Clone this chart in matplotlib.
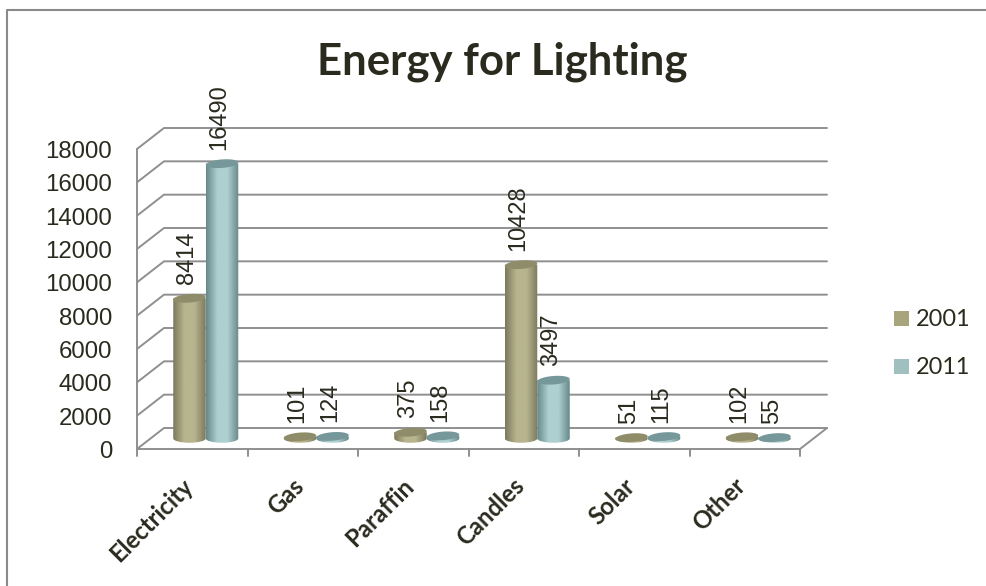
import numpy as np
import matplotlib as mpl
mpl.use('Agg')
import matplotlib.pyplot as plt
from matplotlib.lines import Line2D
from matplotlib.patches import PathPatch, Polygon, Rectangle
from matplotlib.path import Path


title = 'Energy for Lighting'
categories = ['Electricity', 'Gas', 'Paraffin', 'Candles', 'Solar', 'Other']
series_names = ['2001', '2011']
values_2001 = [8414, 101, 375, 10428, 51, 102]
values_2011 = [16490, 124, 158, 3497, 115, 55]
y_ticks = list(range(0, 18001, 2000))

W, H = 986, 586
INK = '#2b2a1e'
GRID = '#8f8f8f'
# (edge, middle, top cap) for each series
SHADES = [('#7c7a5e', '#b8b58e', '#8f8d69'),
          ('#688989', '#aed0d0', '#76989a')]
LEGEND_COLORS = ['#a8a57c', '#9fc0be']

# pretend depth of the 3d box, in pixels
DEPTH_X, DEPTH_Y = 27, 21
AX_L, AX_R, AX_B, AX_T = 137, 800, 449, 149
BAR_W = 32.5
CAP_H = 8.5
CAP_TILT = 1.2


def main():
    fig = plt.figure(figsize=(W/100, H/100), dpi=100, facecolor='white')
    # the chart frame is only visible on its top and left side
    fig.add_artist(Line2D([6.5/W, 6.5/W, 1], [0, 1 - 10/H, 1 - 10/H], color='#8a8a8a', lw=1.5,
                          transform=fig.transFigure))
    ax = fig.add_axes([AX_L/W, 1 - AX_B/H, (AX_R - AX_L)/W, (AX_B - AX_T)/H])
    ax.axis('off')
    ax.set_xlim(0, len(categories))
    ax.set_ylim(0, 18000)
    px_x = len(categories)/(AX_R - AX_L)
    px_y = 18000/(AX_B - AX_T)
    ddx, ddy = DEPTH_X*px_x, DEPTH_Y*px_y
    line = dict(color=GRID, lw=1.4, clip_on=False, zorder=1, solid_capstyle='round')

    # walls and floor
    for v in y_ticks:
        ax.plot([0, ddx, len(categories) + ddx], [v, v + ddy, v + ddy], **line)
    ax.plot([0, 0], [0, 18000], **line)
    ax.plot([0, len(categories), len(categories) + ddx], [0, 0, ddy], **line)
    for i in range(len(categories) + 1):
        ax.plot([i, i], [0, -7*px_y], **line)
    for v in y_ticks:
        ax.text(-25*px_x, v - 3*px_y, str(v), ha='right', va='center', fontsize=17.3,
                family='Liberation Sans', color=INK, clip_on=False)

    # cylinders
    k = 0.5523
    t = np.linspace(0, 2*np.pi, 60)
    for s, vals in enumerate([values_2001, values_2011]):
        edge, mid, top = SHADES[s]
        cmap = mpl.colors.LinearSegmentedColormap.from_list(
            's', [(0, edge), (0.35, mid), (0.65, mid), (1, edge)], N=64)
        for i, v in enumerate(vals):
            w = BAR_W*px_x
            xc = i + 0.5 + ddx/2 + (s - 0.5)*w
            y0 = ddy/2
            y1 = y0 + v
            eh = CAP_H*px_y
            verts = [(xc - w/2, y1), (xc - w/2, y0),
                     (xc - w/2, y0 - k*eh/2), (xc - k*w/2, y0 - eh/2), (xc, y0 - eh/2),
                     (xc + k*w/2, y0 - eh/2), (xc + w/2, y0 - k*eh/2), (xc + w/2, y0),
                     (xc + w/2, y1), (xc - w/2, y1)]
            codes = [Path.MOVETO, Path.LINETO, Path.CURVE4, Path.CURVE4, Path.CURVE4,
                     Path.CURVE4, Path.CURVE4, Path.CURVE4, Path.LINETO, Path.CLOSEPOLY]
            body = PathPatch(Path(verts, codes), fc='none', ec='none')
            ax.add_patch(body)
            im = ax.imshow(np.linspace(0, 1, 64)[None, :], cmap=cmap, aspect='auto',
                           extent=(xc - w/2, xc + w/2, y0 - eh/2, y1 + eh/2), zorder=3)
            im.set_clip_path(body)
            # top cap, tilted a little towards the right
            cap = np.column_stack([xc + w/2*np.cos(t),
                                   y1 + eh/2*np.sin(t) + CAP_TILT*px_y*np.cos(t)])
            ax.add_patch(Polygon(cap, fc=top, ec='none', zorder=4))
            ax.text(xc - 2.5*px_x, y1 + 14*px_y, str(v), rotation=90, ha='center', va='bottom',
                    fontsize=17, family='Liberation Sans', color=INK, zorder=6,
                    clip_on=False)
    ax.set_xlim(0, len(categories))
    ax.set_ylim(0, 18000)

    # category labels, anchored at their upper right end
    for i, name in enumerate(categories):
        ax.text(i + 0.5 - 0.1, -25*px_y, name, rotation=45, ha='right', va='top',
                rotation_mode='anchor', fontsize=17.2, fontweight='bold', family='Lato',
                color=INK, clip_on=False)

    fig.text(502/W, 1 - 75/H, title, ha='center', va='baseline', fontsize=31.5,
             fontweight='bold', family='Lato', color=INK)

    # legend
    for name, c, yc in zip(series_names, LEGEND_COLORS, [318, 366]):
        fig.add_artist(Rectangle((893.5/W, 1 - (yc + 7.5)/H), 15/W, 15/H,
                                 transform=fig.transFigure, fc=c, ec='none'))
        fig.text(916/W, 1 - (yc + 1)/H, name, ha='left', va='center', fontsize=16.9,
                 family='Lato', color=INK)

    fig.savefig('out.png', dpi=100)


if __name__ == '__main__':
    main()
